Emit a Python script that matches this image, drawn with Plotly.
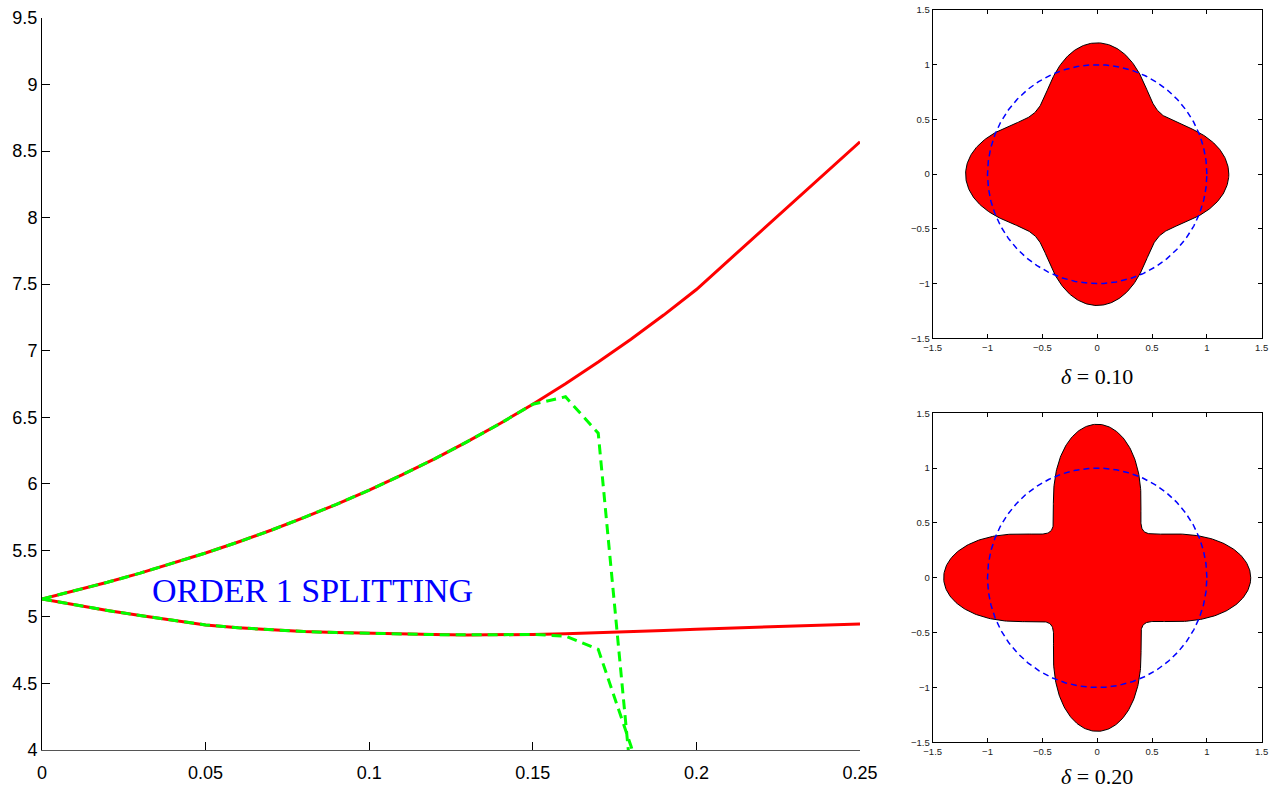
import numpy as np
import plotly.graph_objects as go

# ---------------- data ----------------
x_main = [0.00, 0.01, 0.02, 0.03, 0.04, 0.05, 0.06, 0.07, 0.08, 0.09, 0.10,
          0.11, 0.12, 0.13, 0.14, 0.15, 0.16, 0.17, 0.18, 0.19, 0.20, 0.25]
upper_red = [5.135, 5.196, 5.260, 5.329, 5.402, 5.480, 5.563, 5.651, 5.746, 5.846, 5.953,
             6.067, 6.188, 6.317, 6.453, 6.598, 6.752, 6.915, 7.086, 7.268, 7.460, 8.570]
lower_red = [5.135, 5.090, 5.048, 5.010, 4.975, 4.940, 4.918, 4.902, 4.890, 4.882, 4.876,
             4.871, 4.867, 4.865, 4.866, 4.868, 4.874, 4.881, 4.889, 4.898, 4.908, 4.947]

x_green_upper = x_main[:16] + [0.16, 0.17, 0.18]
green_upper = upper_red[:16] + [6.654, 6.380, 3.790]
x_green_lower = x_main[:16] + [0.16, 0.17, 0.18, 0.19]
green_lower = lower_red[:16] + [4.856, 4.756, 4.030, 3.200]

x_ticks = [0, 0.05, 0.10, 0.15, 0.20, 0.25]
x_ticklabels = ["0", "0.05", "0.1", "0.15", "0.2", "0.25"]
y_ticks = [4, 4.5, 5, 5.5, 6, 6.5, 7, 7.5, 8, 8.5, 9, 9.5]
y_ticklabels = ["4", "4.5", "5", "5.5", "6", "6.5", "7", "7.5", "8", "8.5", "9", "9.5"]

deltas = [0.10, 0.20]
delta_labels = ["<i>δ</i> = 0.10", "<i>δ</i> = 0.20"]
small_ticks = [-1.5, -1, -0.5, 0, 0.5, 1, 1.5]
small_ticklabels = ["\u22121.5", "\u22121", "\u22120.5", "0", "0.5", "1", "1.5"]
circle_radius = 1.0

# ---------------- figure ----------------
W, H = 1270, 791
fig = go.Figure()

def px_x(p):
    return p / W

def px_y(p):
    return 1 - p / H

# main curves
fig.add_trace(go.Scatter(x=x_main, y=upper_red, mode="lines",
                         line=dict(color="#FF0000", width=3), xaxis="x", yaxis="y"))
fig.add_trace(go.Scatter(x=x_main, y=lower_red, mode="lines",
                         line=dict(color="#FF0000", width=3), xaxis="x", yaxis="y"))
fig.add_trace(go.Scatter(x=x_green_upper, y=green_upper, mode="lines",
                         line=dict(color="#00FF00", width=3, dash="10px,6px"),
                         xaxis="x", yaxis="y"))
fig.add_trace(go.Scatter(x=x_green_lower, y=green_lower, mode="lines",
                         line=dict(color="#00FF00", width=3, dash="10px,6px"),
                         xaxis="x", yaxis="y"))

# small panels
theta = np.linspace(0, 2 * np.pi, 721)
for i, d in enumerate(deltas):
    ax = str(i + 2)
    r = 1 + 2 * d * np.cos(4 * theta)
    fig.add_trace(go.Scatter(x=r * np.cos(theta), y=r * np.sin(theta), mode="lines",
                             fill="toself", fillcolor="#FF0000",
                             line=dict(color="black", width=1),
                             xaxis="x" + ax, yaxis="y" + ax))
    fig.add_trace(go.Scatter(x=circle_radius * np.cos(theta), y=circle_radius * np.sin(theta),
                             mode="lines",
                             line=dict(color="#0000FF", width=1.5, dash="6px,4px"),
                             xaxis="x" + ax, yaxis="y" + ax))

main_font = dict(family="Liberation Sans, Arial, sans-serif", size=18, color="black")
small_font = dict(family="Liberation Sans, Arial, sans-serif", size=9.5, color="#222")

layout = dict(
    width=W, height=H,
    margin=dict(l=0, r=0, t=0, b=0, autoexpand=False),
    paper_bgcolor="white", plot_bgcolor="white",
    showlegend=False,
    xaxis=dict(domain=[px_x(42), px_x(860)], range=[0, 0.25],
               tickvals=x_ticks, ticktext=x_ticklabels, ticks="inside", ticklen=8,
               tickcolor="black", showline=True, linecolor="#555", linewidth=1,
               showgrid=False, zeroline=False, tickfont=main_font, anchor="y",
               ticklabelstandoff=6, automargin=False),
    yaxis=dict(domain=[px_y(750), px_y(18)], range=[4, 9.5],
               tickvals=y_ticks, ticktext=y_ticklabels, ticks="inside", ticklen=8,
               tickcolor="black", showline=True, linecolor="black", linewidth=1,
               showgrid=False, zeroline=False, tickfont=main_font, anchor="x",
               automargin=False),
)

panel_y = [(px_y(338.3), px_y(10)), (px_y(742.3), px_y(413.3))]
for i in range(2):
    n = str(i + 2)
    common = dict(range=[-1.5, 1.5], tickvals=small_ticks, ticktext=small_ticklabels,
                  ticks="inside", ticklen=4, tickcolor="black", showline=True,
                  linecolor="black", linewidth=1, mirror="ticks", showgrid=False,
                  zeroline=False, tickfont=small_font, automargin=False)
    layout["xaxis" + n] = dict(domain=[px_x(932.7), px_x(1261.7)], anchor="y" + n, **common)
    layout["yaxis" + n] = dict(domain=list(panel_y[i]), anchor="x" + n, **common)

fig.update_layout(**layout)

fig.add_annotation(x=0.033, y=5.2, xref="x", yref="y", text="ORDER 1 SPLITTING",
                   showarrow=False, xanchor="left", yanchor="middle",
                   font=dict(family="Liberation Serif, Times New Roman, serif", size=34,
                             color="#0000FF"))

title_y = [px_y(390), px_y(790)]
for i in range(2):
    fig.add_annotation(x=px_x(1097.2), y=title_y[i], xref="paper", yref="paper",
                       text=delta_labels[i], showarrow=False, xanchor="center",
                       yanchor="bottom", borderpad=0,
                       font=dict(family="Liberation Serif, Times New Roman, serif",
                                 size=22, color="black"))

fig.write_html("out.html")
